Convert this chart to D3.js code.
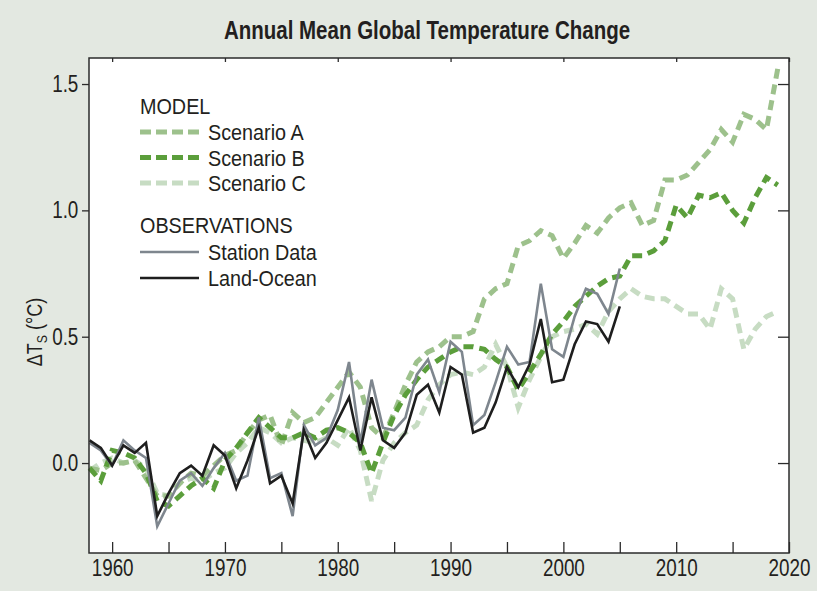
<!DOCTYPE html>
<html>
<head>
<meta charset="utf-8">
<script src="https://cdn.jsdelivr.net/npm/d3@7"></script>
<style>
  html, body { margin: 0; padding: 0; background: #e3e8e1; }
  svg { display: block; }
  text { font-family: "Liberation Sans", Arial, sans-serif; fill: #231f20; }
</style>
</head>
<body>
<div id="chart"></div>
<script>
// years for model runs and observations
const modelYears = d3.range(1958, 2020);
const obsYears = d3.range(1958, 2006);

// model scenarios (deg C)
const scenarioA = [-0.02, -0.03, 0.00, 0.00, 0.01, -0.06, -0.13, -0.13, -0.08, -0.04,
  -0.05, -0.01, 0.03, 0.05, 0.12, 0.17, 0.19, 0.07, 0.20, 0.16,
  0.18, 0.24, 0.30, 0.36, 0.30, 0.14, 0.10, 0.20, 0.31, 0.40,
  0.44, 0.46, 0.50, 0.50, 0.52, 0.65, 0.69, 0.71, 0.86, 0.88,
  0.92, 0.90, 0.81, 0.87, 0.94, 0.91, 0.97, 1.01, 1.03, 0.94,
  0.96, 1.12, 1.12, 1.14, 1.19, 1.24, 1.32, 1.27, 1.38, 1.36,
  1.32, 1.56];
const scenarioB = [-0.02, -0.07, 0.05, 0.04, 0.02, -0.04, -0.15, -0.17, -0.13, -0.09,
  -0.06, -0.10, 0.01, 0.06, 0.12, 0.18, 0.14, 0.10, 0.10, 0.12,
  0.10, 0.13, 0.14, 0.12, 0.08, -0.04, 0.08, 0.19, 0.27, 0.33,
  0.38, 0.41, 0.44, 0.46, 0.46, 0.45, 0.41, 0.38, 0.29, 0.36,
  0.43, 0.51, 0.56, 0.62, 0.66, 0.70, 0.73, 0.74, 0.82, 0.82,
  0.84, 0.88, 1.02, 0.97, 1.06, 1.05, 1.07, 1.00, 0.95, 1.05,
  1.13, 1.10];
const scenarioC = [-0.03, 0.00, 0.02, 0.00, 0.01, -0.02, -0.12, -0.13, -0.08, -0.06,
  -0.07, -0.04, -0.02, 0.04, 0.08, 0.14, 0.12, 0.08, 0.10, 0.09,
  0.08, 0.10, 0.07, 0.14, 0.05, -0.15, 0.01, 0.08, 0.12, 0.15,
  0.25, 0.31, 0.35, 0.36, 0.35, 0.38, 0.47, 0.38, 0.22, 0.33,
  0.42, 0.50, 0.52, 0.53, 0.55, 0.51, 0.60, 0.65, 0.69, 0.66,
  0.65, 0.65, 0.62, 0.59, 0.59, 0.53, 0.69, 0.65, 0.45, 0.53,
  0.58, 0.60];

// observations (deg C)
const stationData = [0.08, 0.05, -0.01, 0.09, 0.05, 0.02, -0.25, -0.16, -0.07, -0.04,
  -0.09, -0.02, 0.04, -0.07, -0.05, 0.18, -0.06, -0.04, -0.21, 0.15,
  0.07, 0.10, 0.21, 0.40, 0.08, 0.33, 0.14, 0.13, 0.18, 0.35,
  0.41, 0.28, 0.48, 0.44, 0.15, 0.19, 0.32, 0.46, 0.39, 0.40,
  0.71, 0.45, 0.42, 0.58, 0.69, 0.67, 0.59, 0.77];
const landOcean = [0.09, 0.06, -0.01, 0.07, 0.04, 0.08, -0.21, -0.12, -0.04, -0.01,
  -0.05, 0.07, 0.03, -0.10, 0.01, 0.14, -0.08, -0.05, -0.16, 0.13,
  0.02, 0.08, 0.17, 0.26, 0.05, 0.26, 0.09, 0.06, 0.12, 0.27,
  0.31, 0.20, 0.38, 0.35, 0.12, 0.14, 0.24, 0.38, 0.30, 0.39,
  0.57, 0.32, 0.33, 0.47, 0.56, 0.55, 0.48, 0.62];

const xTicks = [1960, 1970, 1980, 1990, 2000, 2010, 2020];
const xMinorTicks = [1965, 1975, 1985, 1995, 2005, 2015];
const yTicks = [0.0, 0.5, 1.0, 1.5];

const width = 817, height = 591;
const margin = { top: 58, right: 28, bottom: 38, left: 89 };
const narrow = 'scale(0.82,1)';  // no narrow font installed, squeeze Liberation Sans

const svg = d3.select('#chart').append('svg')
  .attr('width', width)
  .attr('height', height);

svg.append('rect').attr('width', width).attr('height', height).attr('fill', '#e3e8e1');

// title
svg.append('text')
  .attr('transform', `translate(427,39) ${narrow}`)
  .attr('text-anchor', 'middle')
  .style('font-size', '25px')
  .style('font-weight', 'bold')
  .text('Annual Mean Global Temperature Change');

const x = d3.scaleLinear().domain([1957.95, 2020]).range([margin.left, width - margin.right]);
const y = d3.scaleLinear().domain([-0.356, 1.603]).range([height - margin.bottom, margin.top]);

// plot area
svg.append('rect')
  .attr('x', margin.left).attr('y', margin.top)
  .attr('width', width - margin.left - margin.right)
  .attr('height', height - margin.top - margin.bottom)
  .attr('fill', '#ffffff');

const line = d3.line().x(d => x(d[0])).y(d => y(d[1]));

const series = [
  { name: 'Scenario C', years: modelYears, values: scenarioC, color: '#c7dcc3', w: 5, dash: '10,6' },
  { name: 'Scenario A', years: modelYears, values: scenarioA, color: '#9dc18c', w: 5, dash: '10,6' },
  { name: 'Scenario B', years: modelYears, values: scenarioB, color: '#5b9e3b', w: 5, dash: '10,6' },
  { name: 'Station Data', years: obsYears, values: stationData, color: '#7e868e', w: 2.6, dash: null },
  { name: 'Land-Ocean', years: obsYears, values: landOcean, color: '#1e1e1e', w: 2.6, dash: null }
];

const plot = svg.append('g');
series.forEach(s => {
  plot.append('path')
    .datum(s.years.map((yr, i) => [yr, s.values[i]]))
    .attr('d', line)
    .attr('fill', 'none')
    .attr('stroke', s.color)
    .attr('stroke-width', s.w)
    .attr('stroke-linejoin', 'miter')
    .attr('stroke-dasharray', s.dash);
});

// axes
const axisColor = '#2b2b2b';
const bottom = svg.append('g')
  .attr('transform', `translate(0,${height - margin.bottom})`)
  .call(d3.axisBottom(x).tickValues(xTicks).tickFormat(d3.format('d')).tickSize(-11).tickPadding(6));
svg.append('g')
  .attr('transform', `translate(0,${height - margin.bottom})`)
  .call(d3.axisBottom(x).tickValues(xMinorTicks).tickFormat('').tickSize(-11));
svg.append('g')
  .attr('transform', `translate(0,${margin.top})`)
  .call(d3.axisTop(x).tickValues(xTicks).tickFormat('').tickSize(-4));
svg.append('g')
  .attr('transform', `translate(${margin.left},0)`)
  .call(d3.axisLeft(y).tickValues(yTicks).tickFormat(d3.format('.1f')).tickSize(7).tickPadding(6));
svg.append('g')
  .attr('transform', `translate(${width - margin.right},0)`)
  .call(d3.axisRight(y).tickValues(yTicks).tickFormat('').tickSize(-11));

svg.selectAll('.domain').remove();
svg.selectAll('.tick line').attr('stroke', axisColor).attr('stroke-width', 1.3);
svg.selectAll('.tick text')
  .style('font-family', '"Liberation Sans", Arial, sans-serif')
  .style('font-size', '23px')
  .attr('fill', '#231f20')
  .attr('transform', narrow);
bottom.selectAll('.tick text').attr('dy', '0.75em');

// frame
svg.append('rect')
  .attr('x', margin.left).attr('y', margin.top)
  .attr('width', width - margin.left - margin.right)
  .attr('height', height - margin.top - margin.bottom)
  .attr('fill', 'none')
  .attr('stroke', axisColor)
  .attr('stroke-width', 1.5);

// y axis label
const ylab = svg.append('text')
  .attr('transform', 'translate(42,332) rotate(-90) scale(0.82,1)')
  .attr('text-anchor', 'middle')
  .style('font-size', '22px');
ylab.append('tspan').text('\u0394T');
ylab.append('tspan').attr('dy', 5).style('font-size', '15px').text('S');
ylab.append('tspan').attr('dy', -5).text(' (\u00B0C)');

// legend
const legend = svg.append('g').style('font-size', '22px');
const legendText = (tx, ty, label) => legend.append('text')
  .attr('transform', `translate(${tx},${ty}) scale(0.9,1)`)
  .text(label);
legendText(140, 114, 'MODEL');
const legendModel = [series[1], series[2], series[0]];
legendModel.forEach((s, i) => {
  const ly = 132 + i * 25.5;
  legend.append('line')
    .attr('x1', 140).attr('x2', 199).attr('y1', ly).attr('y2', ly)
    .attr('stroke', s.color).attr('stroke-width', 5).attr('stroke-dasharray', '11,5');
  legendText(208, ly + 8, s.name);
});
legendText(140, 233, 'OBSERVATIONS');
[series[3], series[4]].forEach((s, i) => {
  const ly = 252 + i * 26;
  legend.append('line')
    .attr('x1', 140).attr('x2', 199).attr('y1', ly).attr('y2', ly)
    .attr('stroke', s.color).attr('stroke-width', 2.6);
  legendText(208, ly + 8, s.name);
});
</script>
</body>
</html>
